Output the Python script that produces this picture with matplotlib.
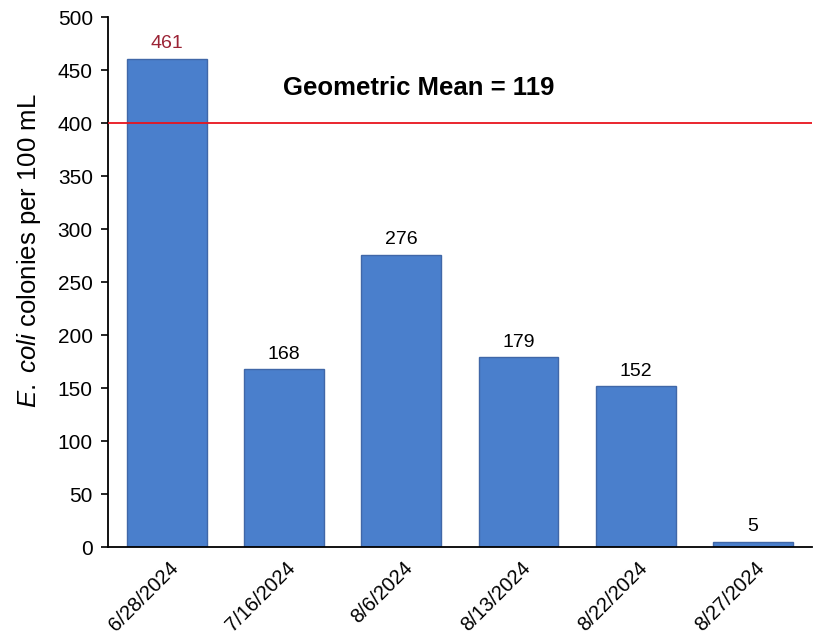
import matplotlib
matplotlib.use("Agg")
import matplotlib.pyplot as plt
import matplotlib.transforms as mtrans

dates = ["6/28/2024", "7/16/2024", "8/6/2024", "8/13/2024", "8/22/2024", "8/27/2024"]
values = [461, 168, 276, 179, 152, 5]
label_colors = ["#9B2335", "black", "black", "black", "black", "black"]
threshold = 400
yticks = [0, 50, 100, 150, 200, 250, 300, 350, 400, 450, 500]

plt.rcParams['font.family'] = ['Liberation Sans', 'DejaVu Sans']
plt.rcParams['mathtext.fontset'] = 'custom'
plt.rcParams['mathtext.it'] = 'Liberation Sans:italic'
plt.rcParams['mathtext.rm'] = 'Liberation Sans'

fig = plt.figure(figsize=(8.25, 6.38), dpi=100)
ax = fig.add_axes([0.131, 0.1426, 0.853, 0.8304])

x = list(range(len(dates)))
ax.bar(x, values, width=0.68, color="#4A7FCC", edgecolor="#4067A8", linewidth=1.0, zorder=2)
for xi, v, c in zip(x, values, label_colors):
    ax.text(xi, v + 6, str(v), ha="center", va="bottom", fontsize=14, color=c)

ax.axhline(threshold, color="#E8141C", linewidth=1.3, zorder=3)
ax.text(2.15, 433, "Geometric Mean = 119", fontsize=18.5, fontweight="bold", ha="center", va="center")

ax.set_xlim(-0.5, 5.5)
ax.set_ylim(0, 500)
ax.set_yticks(yticks)
ax.tick_params(axis="y", labelsize=15, direction="out", length=5, width=1.2, pad=6)
ax.set_xticks(x)
ax.set_xticklabels(dates, rotation=45, ha="right", rotation_mode="anchor", fontsize=14.5)
ax.tick_params(axis="x", length=0, pad=8)
offset = mtrans.ScaledTranslation(2 / 100, 0, fig.dpi_scale_trans)
for lbl in ax.get_xticklabels():
    lbl.set_transform(lbl.get_transform() + offset)
for s in ["top", "right"]:
    ax.spines[s].set_visible(False)
ax.spines["left"].set_linewidth(1.3)
ax.spines["bottom"].set_linewidth(1.3)
ax.set_ylabel(r"$\mathit{E.}$ $\mathit{coli}$ colonies per 100 mL", fontsize=18.5)
ax.yaxis.set_label_coords(-0.092, 0.56)

fig.savefig("out.png", dpi=100)
